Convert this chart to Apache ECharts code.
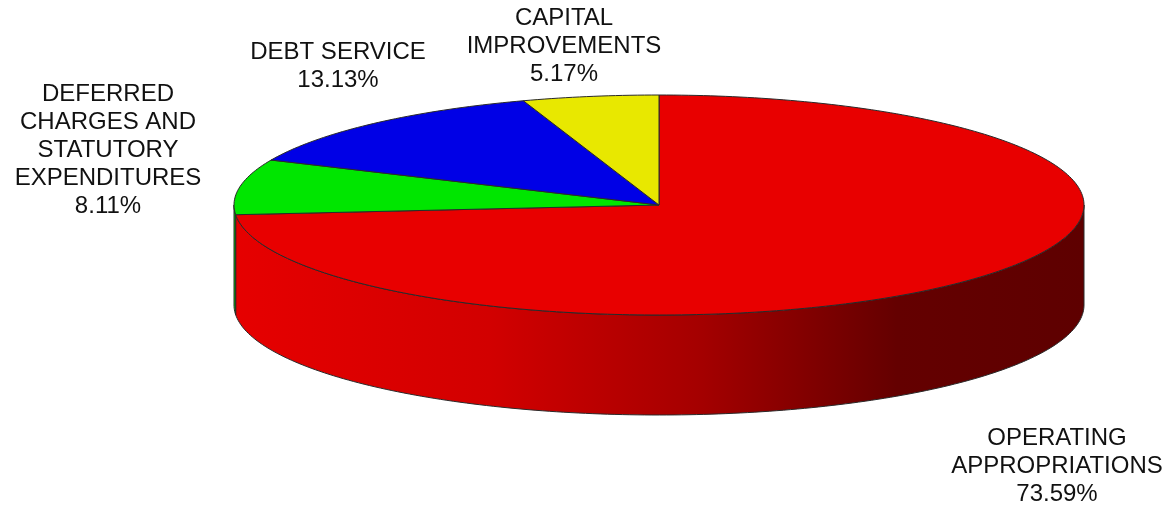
<!DOCTYPE html>
<html>
<head>
<meta charset="utf-8">
<script src="https://cdn.jsdelivr.net/npm/echarts@6/dist/echarts.min.js"></script>
<style>
  html, body { margin: 0; padding: 0; background: #ffffff; }
  #main { width: 1169px; height: 511px; }
</style>
</head>
<body>
<div id="main"></div>
<script>
// ---- data ----
var categories = ['OPERATING\nAPPROPRIATIONS', 'DEFERRED\nCHARGES AND\nSTATUTORY\nEXPENDITURES', 'DEBT SERVICE', 'CAPITAL\nIMPROVEMENTS'];
var values = [73.59, 8.11, 13.13, 5.17];

// ---- styles / layout ----
var topColors = ['#E80000', '#00E600', '#0000E6', '#E8E800'];
var wallColors = [
  [[0, '#E60000'], [0.3, '#D20000'], [0.55, '#A40000'], [0.78, '#640000'], [1, '#5E0000']],
  [[0, '#00C800'], [1, '#00A000']],
  [[0, '#0000C0'], [1, '#0000A0']],
  [[0, '#C8C800'], [1, '#A0A000']]
];
var geom = { cx: 659 / 1169, cy: 205 / 511, rx: 425 / 1169, ry: 110 / 511, depth: 100 / 511 };
// label centres as fractions of the canvas
var labelPos = [[1057 / 1169, 466 / 511], [108 / 1169, 150 / 511], [338 / 1169, 66 / 511], [564 / 1169, 46 / 511]];

var total = values.reduce(function (a, b) { return a + b; }, 0);
var startAngles = [];
(function () {
  var acc = 0;
  for (var i = 0; i < values.length; i++) {
    startAngles.push(-Math.PI / 2 + acc / total * Math.PI * 2);
    acc += values[i];
  }
})();

function arcPoints(cx, cy, rx, ry, a0, a1, dy) {
  var pts = [];
  var n = Math.max(2, Math.ceil(Math.abs(a1 - a0) / (Math.PI / 180)));
  for (var k = 0; k <= n; k++) {
    var a = a0 + (a1 - a0) * k / n;
    pts.push([cx + rx * Math.cos(a), cy + ry * Math.sin(a) + (dy || 0)]);
  }
  return pts;
}

function renderItem(params, api) {
  var W = api.getWidth(), H = api.getHeight();
  var cx = geom.cx * W, cy = geom.cy * H, rx = geom.rx * W, ry = geom.ry * H, depth = geom.depth * H;
  var i = params.dataIndex;
  var v = api.value(1);
  var a0 = startAngles[i];
  var a1 = a0 + v / total * Math.PI * 2;
  var children = [];

  // side wall (only front half visible: angle in [0, PI] or [2PI, 3PI])
  [[0, Math.PI], [2 * Math.PI, 3 * Math.PI]].forEach(function (rng) {
    var s = Math.max(a0, rng[0]), e = Math.min(a1, rng[1]);
    if (e > s) {
      var top = arcPoints(cx, cy, rx, ry, s, e, 0);
      var bot = arcPoints(cx, cy, rx, ry, e, s, depth);
      children.push({
        type: 'polygon',
        shape: { points: top.concat(bot) },
        style: {
          fill: new echarts.graphic.LinearGradient(cx - rx, 0, cx + rx, 0,
            wallColors[i].map(function (c) { return { offset: c[0], color: c[1] }; }), true),
          stroke: '#2a2a2a', lineWidth: 1
        },
        z2: 1
      });
    }
  });

  // top face
  var pts = [[cx, cy]].concat(arcPoints(cx, cy, rx, ry, a0, a1, 0));
  children.push({
    type: 'polygon',
    shape: { points: pts },
    style: { fill: topColors[i], stroke: '#2a2a2a', lineWidth: 1 },
    z2: 2
  });

  // label
  children.push({
    type: 'text',
    style: {
      text: categories[i] + '\n' + v.toFixed(2) + '%',
      x: labelPos[i][0] * W,
      y: labelPos[i][1] * H,
      align: 'center',
      verticalAlign: 'middle',
      fontFamily: '"Liberation Sans", Arial, sans-serif',
      fontSize: 24,
      lineHeight: 28,
      fill: '#111111'
    },
    z2: 3
  });

  return { type: 'group', children: children };
}

var chart = echarts.init(document.getElementById('main'), null, { renderer: 'canvas' });
chart.setOption({
  backgroundColor: '#ffffff',
  animation: false,
  series: [{
    type: 'custom',
    coordinateSystem: 'none',
    renderItem: renderItem,
    data: values.map(function (v, i) { return [i, v]; })
  }]
});
</script>
</body>
</html>
